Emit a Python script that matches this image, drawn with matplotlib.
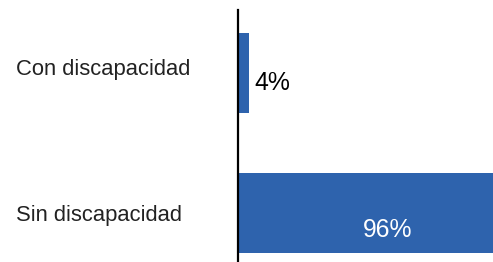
import matplotlib
matplotlib.use("Agg")
import matplotlib.pyplot as plt
from matplotlib.transforms import ScaledTranslation

# data
categories = ["Sin discapacidad", "Con discapacidad"]
values = [96, 4]
value_labels = ["96%", "4%"]

plt.rcParams['font.family'] = ['Liberation Sans', 'DejaVu Sans']

fig = plt.figure(figsize=(4.93, 2.62), dpi=100)
ax = fig.add_axes([238 / 493, 0, 1 - 238 / 493, 252 / 262])

blue = "#2E63AD"
ypos = list(range(len(categories)))
ax.barh(ypos, values, height=0.571, color=blue)

ax.set_xlim(0, max(values))
ax.set_ylim(-0.35, 1.45)

ax.set_yticks(ypos)
ax.set_yticklabels(categories, fontsize=15.8, color="#222222", ha="left")
ax.tick_params(axis="y", length=0, pad=160)
ax.set_xticks([])

# the upper label sits a bit above its bar in the original
lbl = ax.get_yticklabels()[1]
lbl.set_transform(lbl.get_transform() + ScaledTranslation(0, 0.06, fig.dpi_scale_trans))

for s in ["top", "right", "bottom"]:
    ax.spines[s].set_visible(False)
ax.spines["left"].set_linewidth(1.6)
ax.spines["left"].set_color("black")

# value labels
for y, v, lab in zip(ypos, values, value_labels):
    if v > 50:
        ax.text(v * 0.585, y - 0.171, lab, color="white", fontsize=17.8,
                ha="center", va="baseline")
    else:
        ax.text(v + 2.0, y - 0.121, lab, color="black", fontsize=17.8,
                ha="left", va="baseline")

fig.savefig("out.png", dpi=100)
